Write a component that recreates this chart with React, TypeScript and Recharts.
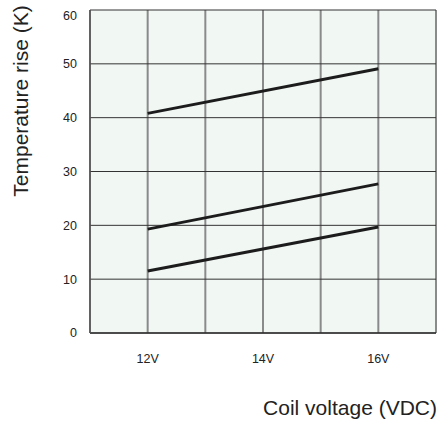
import React from 'react';
import { LineChart, Line, XAxis, YAxis, CartesianGrid } from 'recharts';

// Values
const voltages = [12, 16];
const upperRise = [40.8, 49.1];
const middleRise = [19.3, 27.7];
const lowerRise = [11.5, 19.7];

const xTicks = [11, 12, 13, 14, 15, 16, 17];
const yTicks = [0, 10, 20, 30, 40, 50, 60];

const chartData = voltages.map((v, i) => ({
  volt: v,
  upper: upperRise[i],
  middle: middleRise[i],
  lower: lowerRise[i],
}));

const lineColor = '#1c1c1c';
const textColor = '#222222';
const font = '"Liberation Sans", Arial, sans-serif';

// 60 sits a little below its gridline in the original
const YTick = (props: any) => {
  const { x, y, payload } = props;
  const shift = payload.value === 60 ? 6 : 0;
  return (
    <text x={x} y={y + shift} dy="0.35em" textAnchor="end" fontSize={12.5} fill={textColor} fontFamily={font}>
      {payload.value}
    </text>
  );
};

export default function App() {
  return (
    <div style={{ position: 'absolute', left: 0, top: 0, width: 438, height: 421, background: '#fff', fontFamily: font }}>
      <LineChart
        width={438}
        height={421}
        data={chartData}
        margin={{ top: 10, right: 2, left: 40, bottom: 28 }}
      >
        <CartesianGrid fill="#f1f7f3" horizontal={false} stroke="#8a8a8a" strokeWidth={2} />
        <CartesianGrid vertical={false} stroke="#333333" strokeWidth={1} />
        <XAxis
          dataKey="volt"
          type="number"
          domain={[11, 17]}
          ticks={xTicks}
          interval={0}
          tickFormatter={(v: number) => (v % 2 === 0 ? `${v}V` : '')}
          tickSize={0}
          tickMargin={21}
          height={60}
          axisLine={{ stroke: '#333333', strokeWidth: 1.5 }}
          tick={{ fontSize: 12.5, fill: textColor, fontFamily: font }}
        />
        <YAxis
          type="number"
          domain={[0, 60]}
          ticks={yTicks}
          interval={0}
          tickSize={0}
          tickMargin={13}
          width={50}
          axisLine={{ stroke: '#555555', strokeWidth: 1.5 }}
          tick={<YTick />}
        />
        <Line dataKey="upper" stroke={lineColor} strokeWidth={3} dot={false} isAnimationActive={false} />
        <Line dataKey="middle" stroke={lineColor} strokeWidth={3} dot={false} isAnimationActive={false} />
        <Line dataKey="lower" stroke={lineColor} strokeWidth={3} dot={false} isAnimationActive={false} />
      </LineChart>
      <div
        style={{
          position: 'absolute',
          left: 21,
          top: 101,
          transform: 'translate(-50%, -50%) rotate(-90deg)',
          whiteSpace: 'nowrap',
          fontSize: 21,
          color: textColor,
        }}
      >
        Temperature rise (K)
      </div>
      <div
        style={{
          position: 'absolute',
          right: 1,
          top: 408,
          transform: 'translateY(-50%)',
          whiteSpace: 'nowrap',
          fontSize: 21,
          color: textColor,
        }}
      >
        Coil voltage (VDC)
      </div>
    </div>
  );
}
